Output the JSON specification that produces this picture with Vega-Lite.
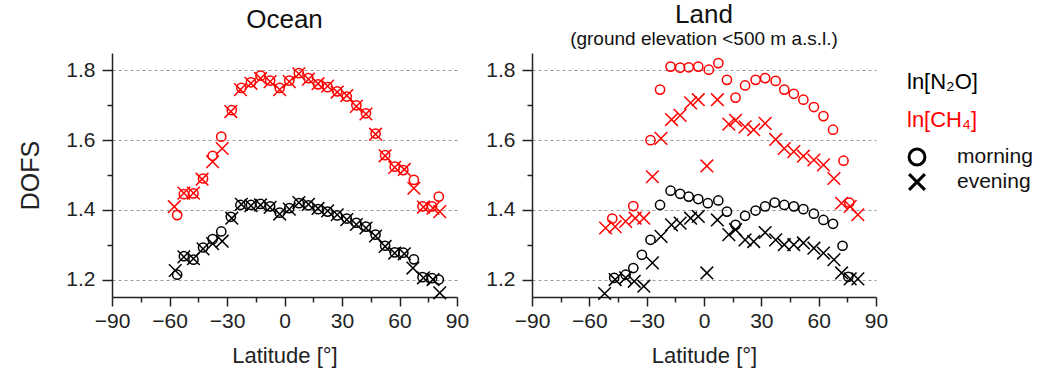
{
  "$schema": "https://vega.github.io/schema/vega-lite/v6.json",
  "background": "white",
  "padding": {"left": 18, "top": 2, "right": 5, "bottom": 5},
  "bounds": "flush",
  "spacing": 75,
  "config": {
    "font": "Liberation Sans",
    "view": {"stroke": null},
    "axis": {"domainColor": "#222", "domainWidth": 1.5, "tickColor": "#222", "tickWidth": 1.5, "labelColor": "#222", "labelFontSize": 21, "titleFontSize": 22, "titleFontWeight": "normal", "titleColor": "#222"},
    "title": {"fontWeight": "normal", "color": "#111", "fontSize": 26, "subtitleFontSize": 19, "subtitleColor": "#111"}
  },
  "datasets": {
    "pts": [
      {"p":"Ocean","g":"CH4","t":"morning","lat":-56,"v":1.385},
      {"p":"Ocean","g":"CH4","t":"morning","lat":-52.5,"v":1.445},
      {"p":"Ocean","g":"CH4","t":"morning","lat":-47.5,"v":1.447},
      {"p":"Ocean","g":"CH4","t":"morning","lat":-42.5,"v":1.49},
      {"p":"Ocean","g":"CH4","t":"morning","lat":-37.5,"v":1.555},
      {"p":"Ocean","g":"CH4","t":"morning","lat":-33,"v":1.61},
      {"p":"Ocean","g":"CH4","t":"morning","lat":-27.5,"v":1.686},
      {"p":"Ocean","g":"CH4","t":"morning","lat":-22.5,"v":1.75},
      {"p":"Ocean","g":"CH4","t":"morning","lat":-17.5,"v":1.766},
      {"p":"Ocean","g":"CH4","t":"morning","lat":-12.5,"v":1.785},
      {"p":"Ocean","g":"CH4","t":"morning","lat":-7.5,"v":1.771},
      {"p":"Ocean","g":"CH4","t":"morning","lat":-2.5,"v":1.75},
      {"p":"Ocean","g":"CH4","t":"morning","lat":2.5,"v":1.771},
      {"p":"Ocean","g":"CH4","t":"morning","lat":7.5,"v":1.792},
      {"p":"Ocean","g":"CH4","t":"morning","lat":12.5,"v":1.778},
      {"p":"Ocean","g":"CH4","t":"morning","lat":17.5,"v":1.76},
      {"p":"Ocean","g":"CH4","t":"morning","lat":22.5,"v":1.752},
      {"p":"Ocean","g":"CH4","t":"morning","lat":27.5,"v":1.74},
      {"p":"Ocean","g":"CH4","t":"morning","lat":32.5,"v":1.725},
      {"p":"Ocean","g":"CH4","t":"morning","lat":37.5,"v":1.70},
      {"p":"Ocean","g":"CH4","t":"morning","lat":42.5,"v":1.677},
      {"p":"Ocean","g":"CH4","t":"morning","lat":47.5,"v":1.619},
      {"p":"Ocean","g":"CH4","t":"morning","lat":52.5,"v":1.557},
      {"p":"Ocean","g":"CH4","t":"morning","lat":57.5,"v":1.524},
      {"p":"Ocean","g":"CH4","t":"morning","lat":62,"v":1.514},
      {"p":"Ocean","g":"CH4","t":"morning","lat":67.5,"v":1.486},
      {"p":"Ocean","g":"CH4","t":"morning","lat":72,"v":1.41},
      {"p":"Ocean","g":"CH4","t":"morning","lat":77,"v":1.41},
      {"p":"Ocean","g":"CH4","t":"morning","lat":80.5,"v":1.438},
      {"p":"Ocean","g":"CH4","t":"evening","lat":-57.5,"v":1.409},
      {"p":"Ocean","g":"CH4","t":"evening","lat":-52.5,"v":1.448},
      {"p":"Ocean","g":"CH4","t":"evening","lat":-47.5,"v":1.448},
      {"p":"Ocean","g":"CH4","t":"evening","lat":-43,"v":1.488},
      {"p":"Ocean","g":"CH4","t":"evening","lat":-37.5,"v":1.538},
      {"p":"Ocean","g":"CH4","t":"evening","lat":-32.5,"v":1.576},
      {"p":"Ocean","g":"CH4","t":"evening","lat":-28,"v":1.682},
      {"p":"Ocean","g":"CH4","t":"evening","lat":-23,"v":1.745},
      {"p":"Ocean","g":"CH4","t":"evening","lat":-17.5,"v":1.763},
      {"p":"Ocean","g":"CH4","t":"evening","lat":-12.5,"v":1.777},
      {"p":"Ocean","g":"CH4","t":"evening","lat":-7.5,"v":1.768},
      {"p":"Ocean","g":"CH4","t":"evening","lat":-2.5,"v":1.745},
      {"p":"Ocean","g":"CH4","t":"evening","lat":2.5,"v":1.768},
      {"p":"Ocean","g":"CH4","t":"evening","lat":7.5,"v":1.79},
      {"p":"Ocean","g":"CH4","t":"evening","lat":12.5,"v":1.775},
      {"p":"Ocean","g":"CH4","t":"evening","lat":17.5,"v":1.762},
      {"p":"Ocean","g":"CH4","t":"evening","lat":22.5,"v":1.755},
      {"p":"Ocean","g":"CH4","t":"evening","lat":27.5,"v":1.738},
      {"p":"Ocean","g":"CH4","t":"evening","lat":32.5,"v":1.728},
      {"p":"Ocean","g":"CH4","t":"evening","lat":37.5,"v":1.697},
      {"p":"Ocean","g":"CH4","t":"evening","lat":42.5,"v":1.675},
      {"p":"Ocean","g":"CH4","t":"evening","lat":47.5,"v":1.617},
      {"p":"Ocean","g":"CH4","t":"evening","lat":52.5,"v":1.555},
      {"p":"Ocean","g":"CH4","t":"evening","lat":57.5,"v":1.522},
      {"p":"Ocean","g":"CH4","t":"evening","lat":62.5,"v":1.516},
      {"p":"Ocean","g":"CH4","t":"evening","lat":67.5,"v":1.462},
      {"p":"Ocean","g":"CH4","t":"evening","lat":72.5,"v":1.408},
      {"p":"Ocean","g":"CH4","t":"evening","lat":77.5,"v":1.405},
      {"p":"Ocean","g":"CH4","t":"evening","lat":81,"v":1.395},
      {"p":"Ocean","g":"N2O","t":"morning","lat":-56,"v":1.214},
      {"p":"Ocean","g":"N2O","t":"morning","lat":-52.5,"v":1.267},
      {"p":"Ocean","g":"N2O","t":"morning","lat":-47.5,"v":1.257},
      {"p":"Ocean","g":"N2O","t":"morning","lat":-42.5,"v":1.292},
      {"p":"Ocean","g":"N2O","t":"morning","lat":-37.5,"v":1.316},
      {"p":"Ocean","g":"N2O","t":"morning","lat":-33,"v":1.338},
      {"p":"Ocean","g":"N2O","t":"morning","lat":-28,"v":1.38},
      {"p":"Ocean","g":"N2O","t":"morning","lat":-23,"v":1.414},
      {"p":"Ocean","g":"N2O","t":"morning","lat":-17.5,"v":1.414},
      {"p":"Ocean","g":"N2O","t":"morning","lat":-12.5,"v":1.417},
      {"p":"Ocean","g":"N2O","t":"morning","lat":-7.5,"v":1.41},
      {"p":"Ocean","g":"N2O","t":"morning","lat":-2.5,"v":1.392},
      {"p":"Ocean","g":"N2O","t":"morning","lat":2.5,"v":1.405},
      {"p":"Ocean","g":"N2O","t":"morning","lat":7.5,"v":1.419},
      {"p":"Ocean","g":"N2O","t":"morning","lat":12.5,"v":1.413},
      {"p":"Ocean","g":"N2O","t":"morning","lat":17.5,"v":1.402},
      {"p":"Ocean","g":"N2O","t":"morning","lat":22.5,"v":1.395},
      {"p":"Ocean","g":"N2O","t":"morning","lat":27.5,"v":1.384},
      {"p":"Ocean","g":"N2O","t":"morning","lat":32.5,"v":1.375},
      {"p":"Ocean","g":"N2O","t":"morning","lat":37.5,"v":1.363},
      {"p":"Ocean","g":"N2O","t":"morning","lat":42.5,"v":1.352},
      {"p":"Ocean","g":"N2O","t":"morning","lat":47.5,"v":1.329},
      {"p":"Ocean","g":"N2O","t":"morning","lat":52.5,"v":1.297},
      {"p":"Ocean","g":"N2O","t":"morning","lat":57.5,"v":1.278},
      {"p":"Ocean","g":"N2O","t":"morning","lat":62,"v":1.277},
      {"p":"Ocean","g":"N2O","t":"morning","lat":67.5,"v":1.258},
      {"p":"Ocean","g":"N2O","t":"morning","lat":72,"v":1.207},
      {"p":"Ocean","g":"N2O","t":"morning","lat":77,"v":1.204},
      {"p":"Ocean","g":"N2O","t":"morning","lat":80.5,"v":1.2},
      {"p":"Ocean","g":"N2O","t":"evening","lat":-57,"v":1.226},
      {"p":"Ocean","g":"N2O","t":"evening","lat":-52.5,"v":1.265},
      {"p":"Ocean","g":"N2O","t":"evening","lat":-47.5,"v":1.26},
      {"p":"Ocean","g":"N2O","t":"evening","lat":-42.5,"v":1.288},
      {"p":"Ocean","g":"N2O","t":"evening","lat":-37.5,"v":1.303},
      {"p":"Ocean","g":"N2O","t":"evening","lat":-32.5,"v":1.31},
      {"p":"Ocean","g":"N2O","t":"evening","lat":-27.5,"v":1.376},
      {"p":"Ocean","g":"N2O","t":"evening","lat":-22.5,"v":1.416},
      {"p":"Ocean","g":"N2O","t":"evening","lat":-17.5,"v":1.412},
      {"p":"Ocean","g":"N2O","t":"evening","lat":-12.5,"v":1.414},
      {"p":"Ocean","g":"N2O","t":"evening","lat":-7.5,"v":1.407},
      {"p":"Ocean","g":"N2O","t":"evening","lat":-2.5,"v":1.388},
      {"p":"Ocean","g":"N2O","t":"evening","lat":2.5,"v":1.402},
      {"p":"Ocean","g":"N2O","t":"evening","lat":7.5,"v":1.421},
      {"p":"Ocean","g":"N2O","t":"evening","lat":12.5,"v":1.416},
      {"p":"Ocean","g":"N2O","t":"evening","lat":17.5,"v":1.404},
      {"p":"Ocean","g":"N2O","t":"evening","lat":22.5,"v":1.397},
      {"p":"Ocean","g":"N2O","t":"evening","lat":27.5,"v":1.386},
      {"p":"Ocean","g":"N2O","t":"evening","lat":32.5,"v":1.372},
      {"p":"Ocean","g":"N2O","t":"evening","lat":37.5,"v":1.358},
      {"p":"Ocean","g":"N2O","t":"evening","lat":42.5,"v":1.348},
      {"p":"Ocean","g":"N2O","t":"evening","lat":47.5,"v":1.325},
      {"p":"Ocean","g":"N2O","t":"evening","lat":52.5,"v":1.295},
      {"p":"Ocean","g":"N2O","t":"evening","lat":57.5,"v":1.276},
      {"p":"Ocean","g":"N2O","t":"evening","lat":62.5,"v":1.274},
      {"p":"Ocean","g":"N2O","t":"evening","lat":67,"v":1.233},
      {"p":"Ocean","g":"N2O","t":"evening","lat":72.5,"v":1.205},
      {"p":"Ocean","g":"N2O","t":"evening","lat":77.5,"v":1.2},
      {"p":"Ocean","g":"N2O","t":"evening","lat":81,"v":1.162},

      {"p":"Land","g":"CH4","t":"morning","lat":-48,"v":1.375},
      {"p":"Land","g":"CH4","t":"morning","lat":-37,"v":1.411},
      {"p":"Land","g":"CH4","t":"morning","lat":-28,"v":1.60},
      {"p":"Land","g":"CH4","t":"morning","lat":-23,"v":1.745},
      {"p":"Land","g":"CH4","t":"morning","lat":-17.5,"v":1.811},
      {"p":"Land","g":"CH4","t":"morning","lat":-12.5,"v":1.808},
      {"p":"Land","g":"CH4","t":"morning","lat":-8,"v":1.809},
      {"p":"Land","g":"CH4","t":"morning","lat":-3,"v":1.811},
      {"p":"Land","g":"CH4","t":"morning","lat":2.5,"v":1.802},
      {"p":"Land","g":"CH4","t":"morning","lat":7.5,"v":1.821},
      {"p":"Land","g":"CH4","t":"morning","lat":12,"v":1.773},
      {"p":"Land","g":"CH4","t":"morning","lat":16.5,"v":1.722},
      {"p":"Land","g":"CH4","t":"morning","lat":21.5,"v":1.757},
      {"p":"Land","g":"CH4","t":"morning","lat":27,"v":1.773},
      {"p":"Land","g":"CH4","t":"morning","lat":32,"v":1.778},
      {"p":"Land","g":"CH4","t":"morning","lat":37.5,"v":1.77},
      {"p":"Land","g":"CH4","t":"morning","lat":42,"v":1.745},
      {"p":"Land","g":"CH4","t":"morning","lat":47,"v":1.733},
      {"p":"Land","g":"CH4","t":"morning","lat":52,"v":1.716},
      {"p":"Land","g":"CH4","t":"morning","lat":57.5,"v":1.695},
      {"p":"Land","g":"CH4","t":"morning","lat":62.5,"v":1.669},
      {"p":"Land","g":"CH4","t":"morning","lat":67.5,"v":1.63},
      {"p":"Land","g":"CH4","t":"morning","lat":73,"v":1.541},
      {"p":"Land","g":"CH4","t":"morning","lat":76,"v":1.421},
      {"p":"Land","g":"CH4","t":"evening","lat":-51.5,"v":1.348},
      {"p":"Land","g":"CH4","t":"evening","lat":-46.5,"v":1.352},
      {"p":"Land","g":"CH4","t":"evening","lat":-41,"v":1.367},
      {"p":"Land","g":"CH4","t":"evening","lat":-36,"v":1.376},
      {"p":"Land","g":"CH4","t":"evening","lat":-31.5,"v":1.376},
      {"p":"Land","g":"CH4","t":"evening","lat":-27,"v":1.495},
      {"p":"Land","g":"CH4","t":"evening","lat":-22.5,"v":1.605},
      {"p":"Land","g":"CH4","t":"evening","lat":-17,"v":1.659},
      {"p":"Land","g":"CH4","t":"evening","lat":-12.5,"v":1.671},
      {"p":"Land","g":"CH4","t":"evening","lat":-7,"v":1.707},
      {"p":"Land","g":"CH4","t":"evening","lat":-3,"v":1.716},
      {"p":"Land","g":"CH4","t":"evening","lat":1.5,"v":1.526},
      {"p":"Land","g":"CH4","t":"evening","lat":7,"v":1.716},
      {"p":"Land","g":"CH4","t":"evening","lat":13,"v":1.646},
      {"p":"Land","g":"CH4","t":"evening","lat":16.5,"v":1.657},
      {"p":"Land","g":"CH4","t":"evening","lat":21.5,"v":1.638},
      {"p":"Land","g":"CH4","t":"evening","lat":26,"v":1.63},
      {"p":"Land","g":"CH4","t":"evening","lat":32,"v":1.648},
      {"p":"Land","g":"CH4","t":"evening","lat":37.5,"v":1.602},
      {"p":"Land","g":"CH4","t":"evening","lat":42,"v":1.576},
      {"p":"Land","g":"CH4","t":"evening","lat":47,"v":1.567},
      {"p":"Land","g":"CH4","t":"evening","lat":52,"v":1.554},
      {"p":"Land","g":"CH4","t":"evening","lat":57.5,"v":1.543},
      {"p":"Land","g":"CH4","t":"evening","lat":62.5,"v":1.529},
      {"p":"Land","g":"CH4","t":"evening","lat":68,"v":1.49},
      {"p":"Land","g":"CH4","t":"evening","lat":72,"v":1.419},
      {"p":"Land","g":"CH4","t":"evening","lat":76.5,"v":1.41},
      {"p":"Land","g":"CH4","t":"evening","lat":80.5,"v":1.386},
      {"p":"Land","g":"N2O","t":"morning","lat":-47,"v":1.205},
      {"p":"Land","g":"N2O","t":"morning","lat":-41,"v":1.214},
      {"p":"Land","g":"N2O","t":"morning","lat":-37,"v":1.233},
      {"p":"Land","g":"N2O","t":"morning","lat":-32.5,"v":1.271},
      {"p":"Land","g":"N2O","t":"morning","lat":-28,"v":1.314},
      {"p":"Land","g":"N2O","t":"morning","lat":-23,"v":1.414},
      {"p":"Land","g":"N2O","t":"morning","lat":-17.5,"v":1.455},
      {"p":"Land","g":"N2O","t":"morning","lat":-12.5,"v":1.446},
      {"p":"Land","g":"N2O","t":"morning","lat":-8,"v":1.438},
      {"p":"Land","g":"N2O","t":"morning","lat":-3,"v":1.431},
      {"p":"Land","g":"N2O","t":"morning","lat":2,"v":1.419},
      {"p":"Land","g":"N2O","t":"morning","lat":7.5,"v":1.427},
      {"p":"Land","g":"N2O","t":"morning","lat":12,"v":1.395},
      {"p":"Land","g":"N2O","t":"morning","lat":16.5,"v":1.357},
      {"p":"Land","g":"N2O","t":"morning","lat":21.5,"v":1.383},
      {"p":"Land","g":"N2O","t":"morning","lat":27,"v":1.398},
      {"p":"Land","g":"N2O","t":"morning","lat":32,"v":1.41},
      {"p":"Land","g":"N2O","t":"morning","lat":37,"v":1.421},
      {"p":"Land","g":"N2O","t":"morning","lat":42,"v":1.414},
      {"p":"Land","g":"N2O","t":"morning","lat":47,"v":1.41},
      {"p":"Land","g":"N2O","t":"morning","lat":52,"v":1.402},
      {"p":"Land","g":"N2O","t":"morning","lat":57.5,"v":1.389},
      {"p":"Land","g":"N2O","t":"morning","lat":62.5,"v":1.371},
      {"p":"Land","g":"N2O","t":"morning","lat":67.5,"v":1.36},
      {"p":"Land","g":"N2O","t":"morning","lat":72.5,"v":1.297},
      {"p":"Land","g":"N2O","t":"morning","lat":75.5,"v":1.208},
      {"p":"Land","g":"N2O","t":"evening","lat":-52,"v":1.16},
      {"p":"Land","g":"N2O","t":"evening","lat":-46.5,"v":1.20},
      {"p":"Land","g":"N2O","t":"evening","lat":-41,"v":1.205},
      {"p":"Land","g":"N2O","t":"evening","lat":-36.5,"v":1.195},
      {"p":"Land","g":"N2O","t":"evening","lat":-31.5,"v":1.181},
      {"p":"Land","g":"N2O","t":"evening","lat":-27,"v":1.248},
      {"p":"Land","g":"N2O","t":"evening","lat":-22.5,"v":1.324},
      {"p":"Land","g":"N2O","t":"evening","lat":-17,"v":1.357},
      {"p":"Land","g":"N2O","t":"evening","lat":-12.5,"v":1.362},
      {"p":"Land","g":"N2O","t":"evening","lat":-7,"v":1.376},
      {"p":"Land","g":"N2O","t":"evening","lat":-3,"v":1.381},
      {"p":"Land","g":"N2O","t":"evening","lat":1.5,"v":1.219},
      {"p":"Land","g":"N2O","t":"evening","lat":7,"v":1.371},
      {"p":"Land","g":"N2O","t":"evening","lat":13,"v":1.329},
      {"p":"Land","g":"N2O","t":"evening","lat":16.5,"v":1.343},
      {"p":"Land","g":"N2O","t":"evening","lat":21.5,"v":1.314},
      {"p":"Land","g":"N2O","t":"evening","lat":26,"v":1.309},
      {"p":"Land","g":"N2O","t":"evening","lat":32,"v":1.335},
      {"p":"Land","g":"N2O","t":"evening","lat":37.5,"v":1.314},
      {"p":"Land","g":"N2O","t":"evening","lat":42,"v":1.30},
      {"p":"Land","g":"N2O","t":"evening","lat":47,"v":1.30},
      {"p":"Land","g":"N2O","t":"evening","lat":52,"v":1.305},
      {"p":"Land","g":"N2O","t":"evening","lat":57.5,"v":1.29},
      {"p":"Land","g":"N2O","t":"evening","lat":62.5,"v":1.276},
      {"p":"Land","g":"N2O","t":"evening","lat":68,"v":1.257},
      {"p":"Land","g":"N2O","t":"evening","lat":72,"v":1.219},
      {"p":"Land","g":"N2O","t":"evening","lat":76.5,"v":1.202},
      {"p":"Land","g":"N2O","t":"evening","lat":80.5,"v":1.202}
    ],
    "leg": [
      {"key":"N2O","label":"ln[N₂O]","g":"N2O","kind":"gas"},
      {"key":"CH4","label":"ln[CH₄]","g":"CH4","kind":"gas"},
      {"key":"morning","label":"morning","t":"morning","kind":"sym"},
      {"key":"evening","label":"evening","t":"evening","kind":"sym"}
    ]
  },
  "hconcat": [
    {
      "width": 345,
      "height": 244,
      "title": {"text": "Ocean", "offset": 20},
      "data": {"name": "pts"},
      "transform": [{"filter": "datum.p === 'Ocean'"}],
      "mark": {"type": "point", "filled": false, "strokeWidth": 1.5, "opacity": 1},
      "encoding": {
        "x": {"field": "lat", "type": "quantitative", "scale": {"domain": [-90, 90], "nice": false},
          "axis": {"title": "Latitude [°]", "values": [-90,-75,-60,-45,-30,-15,0,15,30,45,60,75,90], "labelExpr": "datum.value % 30 === 0 ? datum.label : ''", "tickSize": {"condition": {"test": "datum.value % 30 !== 0", "value": 5}, "value": 9}, "labelPadding": 4, "titlePadding": 14, "grid": false, "labelFlush": false}},
        "y": {"field": "v", "type": "quantitative", "scale": {"domain": [1.15, 1.85], "nice": false, "zero": false},
          "axis": {"title": "DOFS", "titleFontSize": 25, "titlePadding": 22, "values": [1.2,1.3,1.4,1.5,1.6,1.7,1.8], "labelExpr": "round(datum.value*10) % 2 === 0 ? format(datum.value, '.1f') : ''", "tickSize": {"condition": {"test": "round(datum.value*10) % 2 === 1", "value": 5}, "value": 10}, "labelPadding": 7, "grid": true, "gridDash": [3, 3], "gridColor": "#999", "gridWidth": 1, "gridOpacity": {"condition": {"test": "round(datum.value*10) % 2 === 1", "value": 0}, "value": 1}}},
        "color": {"field": "g", "type": "nominal", "scale": {"domain": ["N2O", "CH4"], "range": ["#000000", "#ff0000"]}, "legend": null},
        "shape": {"field": "t", "type": "nominal", "scale": {"domain": ["morning", "evening"], "range": ["circle", "M-1,-1L1,1M-1,1L1,-1"]}, "legend": null},
        "size": {"field": "t", "type": "ordinal", "scale": {"domain": ["morning", "evening"], "range": [85, 160]}, "legend": null}
      }
    },
    {
      "width": 344,
      "height": 244,
      "title": {"text": "Land", "subtitle": "(ground elevation <500 m a.s.l.)", "offset": 4, "subtitlePadding": 2},
      "data": {"name": "pts"},
      "transform": [{"filter": "datum.p === 'Land'"}],
      "mark": {"type": "point", "filled": false, "strokeWidth": 1.5, "opacity": 1},
      "encoding": {
        "x": {"field": "lat", "type": "quantitative", "scale": {"domain": [-90, 90], "nice": false},
          "axis": {"title": "Latitude [°]", "values": [-90,-75,-60,-45,-30,-15,0,15,30,45,60,75,90], "labelExpr": "datum.value % 30 === 0 ? datum.label : ''", "tickSize": {"condition": {"test": "datum.value % 30 !== 0", "value": 5}, "value": 9}, "labelPadding": 4, "titlePadding": 14, "grid": false, "labelFlush": false}},
        "y": {"field": "v", "type": "quantitative", "scale": {"domain": [1.15, 1.85], "nice": false, "zero": false},
          "axis": {"title": null, "values": [1.2,1.3,1.4,1.5,1.6,1.7,1.8], "labelExpr": "round(datum.value*10) % 2 === 0 ? format(datum.value, '.1f') : ''", "tickSize": {"condition": {"test": "round(datum.value*10) % 2 === 1", "value": 5}, "value": 10}, "labelPadding": 7, "grid": true, "gridDash": [3, 3], "gridColor": "#999", "gridWidth": 1, "gridOpacity": {"condition": {"test": "round(datum.value*10) % 2 === 1", "value": 0}, "value": 1}}},
        "color": {"field": "g", "type": "nominal", "scale": {"domain": ["N2O", "CH4"], "range": ["#000000", "#ff0000"]}, "legend": null},
        "shape": {"field": "t", "type": "nominal", "scale": {"domain": ["morning", "evening"], "range": ["circle", "M-1,-1L1,1M-1,1L1,-1"]}, "legend": null},
        "size": {"field": "t", "type": "ordinal", "scale": {"domain": ["morning", "evening"], "range": [100, 180]}, "legend": null}
      }
    },
    {
      "width": 40,
      "height": 133,
      "data": {"name": "leg"},
      "layer": [
        {
          "transform": [{"filter": "datum.kind === 'gas'"}],
          "mark": {"type": "text", "align": "left", "baseline": "middle", "x": -44, "fontSize": 22},
          "encoding": {
            "y": {"field": "key", "type": "ordinal", "scale": {"type": "point", "domain": ["s0","s0b","N2O","s1","s2","CH4","s3","s4","morning","s5","evening"], "padding": 0.32}, "axis": null},
            "text": {"field": "label"},
            "color": {"field": "g", "type": "nominal", "scale": {"domain": ["N2O", "CH4"], "range": ["#000000", "#ff0000"]}, "legend": null}
          }
        },
        {
          "transform": [{"filter": "datum.kind === 'sym'"}],
          "mark": {"type": "text", "align": "left", "baseline": "middle", "x": 6, "fontSize": 21, "color": "#111"},
          "encoding": {
            "y": {"field": "key", "type": "ordinal", "axis": null},
            "text": {"field": "label"}
          }
        },
        {
          "transform": [{"filter": "datum.kind === 'sym'"}],
          "mark": {"type": "point", "filled": false, "x": -34, "size": 250, "strokeWidth": 3, "color": "#000", "opacity": 1},
          "encoding": {
            "y": {"field": "key", "type": "ordinal", "axis": null},
            "shape": {"field": "t", "type": "nominal", "scale": {"domain": ["morning", "evening"], "range": ["circle", "M-1,-1L1,1M-1,1L1,-1"]}, "legend": null}
          }
        }
      ]
    }
  ]
}
